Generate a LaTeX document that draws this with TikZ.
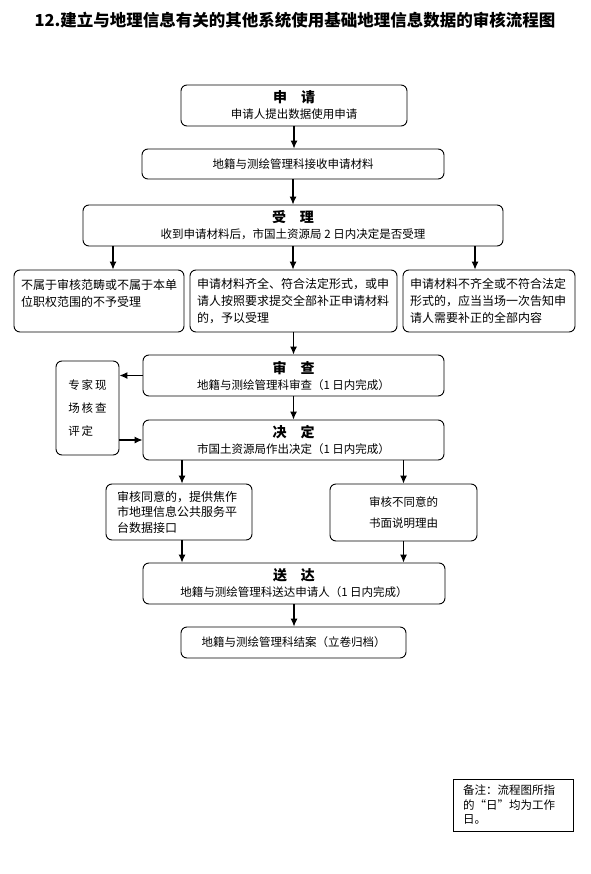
\documentclass[tikz,border=0pt]{standalone}
\usepackage{fontspec}
\setmainfont{Noto Sans CJK SC}
\usetikzlibrary{shapes.geometric}
\usetikzlibrary{arrows.meta}
\newcommand\hd[1]{{\fontsize{14}{17}\selectfont\bfseries #1}}
\tikzset{
  box/.style={rectangle,draw,line width=0.9pt,rounded corners=6pt,align=center,inner sep=0pt,font=\fontsize{11.5}{16}\selectfont},
  lbox/.style={box,align=left,inner xsep=7pt,font=\fontsize{12}{17}\selectfont},
  arr/.style={-{Latex[length=8pt,width=7pt]},line width=1.1pt}
}
\begin{document}
\begin{tikzpicture}[x=1pt,y=-1pt]
\useasboundingbox (0,0) rectangle (590,874);
\path (295,20) node(title)[font=\fontsize{16.5}{20}\selectfont\bfseries]{12.建立与地理信息有关的其他系统使用基础地理信息数据的审核流程图}
(294,105.5) node(shenqing)[box,minimum width=226pt,minimum height=41pt]{\hd{申\quad 请}\\申请人提出数据使用申请}
(293,164) node(jieshou)[box,minimum width=302pt,minimum height=30pt]{地籍与测绘管理科接收申请材料}
(293,225.5) node(shouli)[box,minimum width=420pt,minimum height=41pt]{\hd{受\quad 理}\\收到申请材料后，市国土资源局 2 日内决定是否受理}
(99,301) node(buhe)[lbox,text width=156pt,minimum height=62pt]{不属于审核范畴或不属于本单\\位职权范围的不予受理\\\mbox{}}
(293.5,301) node(heshi)[lbox,text width=193pt,minimum height=62pt]{申请材料齐全、符合法定形式，或申\\请人按照要求提交全部补正申请材料\\的，予以受理}
(489,301) node(buqi)[lbox,text width=158pt,minimum height=62pt]{申请材料不齐全或不符合法定\\形式的，应当当场一次告知申\\请人需要补正的全部内容}
(293.5,375.5) node(shencha)[box,minimum width=301pt,minimum height=41pt]{\hd{审\quad 查}\\地籍与测绘管理科审查（1 日内完成）}
(87.5,408) node(zhuanjia)[box,align=left,minimum width=63pt,minimum height=94pt]{专\,家\,现\\[7pt]场\,核\,查\\[7pt]评\,定}
(293.5,440) node(jueding)[box,minimum width=301pt,minimum height=40pt]{\hd{决\quad 定}\\市国土资源局作出决定（1 日内完成）}
(179,512) node(tongyi)[lbox,inner xsep=11pt,text width=124pt,minimum height=56pt,font=\fontsize{12}{15.5}\selectfont]{审核同意的，提供焦作\\市地理信息公共服务平\\台数据接口}
(403.5,512.5) node(butongyi)[box,minimum width=147pt,minimum height=57pt]{审核不同意的\\[5pt]书面说明理由}
(294,583.5) node(songda)[box,minimum width=302pt,minimum height=41pt]{\hd{送\quad 达}\\地籍与测绘管理科送达申请人（1 日内完成）}
(293.5,642.5) node(jiean)[box,minimum width=225pt,minimum height=31pt]{地籍与测绘管理科结案（立卷归档）}
(513,805) node(beizhu)[lbox,sharp corners,inner xsep=10pt,text width=100pt,minimum height=52pt,font=\fontsize{11.5}{14.5}\selectfont]{备注：流程图所指\\的“日”均为工作\\日。};
\draw[arr](shenqing.south)--(shenqing.south |- jieshou.north);
\draw[arr](jieshou.south)--(jieshou.south |- shouli.north);
\draw[arr]([xshift=14pt]buhe.north |- shouli.south)--([xshift=14pt]buhe.north);
\draw[arr](shouli.south)--(shouli.south |- heshi.north);
\draw[arr]([xshift=-14pt]buqi.north |- shouli.south)--([xshift=-14pt]buqi.north);
\draw[arr](heshi.south)--(heshi.south |- shencha.north);
\draw[arr](shencha.west)--(shencha.west -| zhuanjia.east);
\draw[arr](shencha.south)--(shencha.south |- jueding.north);
\draw[arr](zhuanjia.east |- jueding.west)--(jueding.west);
\draw[arr]([xshift=3pt]tongyi.north |- jueding.south)--([xshift=3pt]tongyi.north);
\draw[arr](butongyi.north |- jueding.south)--(butongyi.north);
\draw[arr]([xshift=3pt]tongyi.south)--([xshift=3pt]tongyi.south |- songda.north);
\draw[arr](butongyi.south)--(butongyi.south |- songda.north);
\draw[arr](songda.south)--(songda.south |- jiean.north);
\end{tikzpicture}
\end{document}
